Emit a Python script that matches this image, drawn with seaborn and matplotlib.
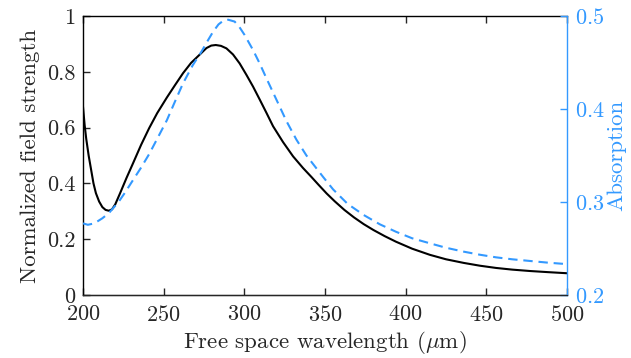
#!/usr/bin/env python3
"""Field strength and absorption versus free space wavelength."""

import pandas as pd
import matplotlib
matplotlib.use("Agg")
import matplotlib.pyplot as plt
import seaborn as sns

# normalized field strength (left axis)
field_wl = [200, 201, 202, 203.5, 205, 206.5, 208, 210, 212, 214, 216, 218,
            220, 223, 227, 231, 236, 241, 246, 252, 257, 262, 267, 272.4,
            276.5, 279.5, 282.3, 285.5, 288.9, 293, 297.1, 301.3, 305.4,
            309.5, 313.7, 317.8, 324, 330.2, 336.4, 341.6, 346, 351, 356,
            362, 368, 374, 380, 387, 394, 404, 415, 425, 436, 446, 456, 466,
            477, 488, 500]
field = [0.675, 0.61, 0.56, 0.50, 0.45, 0.40, 0.365, 0.335, 0.315, 0.305,
         0.302, 0.307, 0.325, 0.365, 0.42, 0.472, 0.538, 0.598, 0.652, 0.708,
         0.752, 0.795, 0.832, 0.862, 0.885, 0.894, 0.896, 0.893, 0.884, 0.862,
         0.83, 0.789, 0.747, 0.701, 0.653, 0.605, 0.548, 0.497, 0.455, 0.423,
         0.395, 0.364, 0.336, 0.305, 0.278, 0.254, 0.233, 0.211, 0.191, 0.166,
         0.144, 0.128, 0.115, 0.105, 0.097, 0.091, 0.086, 0.082, 0.078]

# absorption (right axis)
abs_wl = [200, 203, 207, 212, 216, 222, 226, 231, 236, 241, 246, 252, 257,
          262, 268, 273.4, 277.5, 280.6, 284, 287, 290, 294, 297, 300.2,
          305.4, 309.5, 313.7, 319.9, 326.1, 332.3, 338.5, 348.8, 355, 364,
          374, 384, 394, 404, 415, 425, 436, 446, 456, 466, 477, 488, 500]
absorption = [0.277, 0.2755, 0.277, 0.2825, 0.288, 0.300, 0.310, 0.3236,
              0.337, 0.3515, 0.368, 0.388, 0.408, 0.4276, 0.447, 0.4616,
              0.474, 0.483, 0.491, 0.495, 0.496, 0.494, 0.488, 0.4795,
              0.4634, 0.449, 0.433, 0.41, 0.387, 0.367, 0.35, 0.327,
              0.3136, 0.298, 0.286, 0.276, 0.268, 0.261, 0.2556, 0.2508,
              0.2466, 0.2433, 0.2405, 0.2384, 0.2366, 0.2348, 0.2332]

BLUE = "#3399ff"
TICK_FS = 16
LABEL_FS = 16.5

sns.set_style("ticks")
plt.rcParams["font.family"] = "serif"
plt.rcParams["font.serif"] = ["cmr10", "DejaVu Serif"]
plt.rcParams["mathtext.fontset"] = "cm"
plt.rcParams["axes.formatter.use_mathtext"] = True
plt.rcParams["axes.unicode_minus"] = False

df_field = pd.DataFrame({"wl": field_wl, "val": field})
df_abs = pd.DataFrame({"wl": abs_wl, "val": absorption})

fig = plt.figure(figsize=(6.31, 3.58), dpi=100)
ax = fig.add_axes([83 / 631, 1 - 295 / 358, (567 - 83) / 631, (295 - 16) / 358])
ax2 = ax.twinx()

sns.lineplot(data=df_field, x="wl", y="val", ax=ax, color="black", lw=1.5)
sns.lineplot(data=df_abs, x="wl", y="val", ax=ax2, color=BLUE, lw=1.5,
             linestyle=(0, (4.5, 2.8)))

ax.set_xlim(200, 500)
ax.set_ylim(0, 1)
ax2.set_ylim(0.2, 0.5)
ax.set_xticks([200, 250, 300, 350, 400, 450, 500])
ax.set_yticks([0, 0.2, 0.4, 0.6, 0.8, 1])
ax.set_yticklabels(["0", "0.2", "0.4", "0.6", "0.8", "1"])
ax2.set_yticks([0.2, 0.3, 0.4, 0.5])

ax.set_xlabel(r"Free space wavelength ($\mu$m)", fontsize=LABEL_FS, labelpad=3)
ax.set_ylabel("Normalized field strength", fontsize=LABEL_FS, labelpad=5)
ax2.set_ylabel("Absorption", fontsize=LABEL_FS, color=BLUE, labelpad=2)

ax.tick_params(axis="y", direction="in", length=5, width=1,
               labelsize=TICK_FS, right=False, pad=5.5)
ax.tick_params(axis="x", direction="in", length=5, width=1,
               labelsize=TICK_FS, top=True, pad=7)
ax2.tick_params(axis="y", direction="in", length=5, width=1,
                labelsize=TICK_FS, colors=BLUE, pad=5.5)

for s in ["left", "bottom", "top"]:
    ax.spines[s].set_visible(True)
    ax.spines[s].set_color("black")
    ax.spines[s].set_linewidth(1)
ax2.spines["right"].set_visible(True)
ax2.spines["right"].set_color(BLUE)
ax2.spines["right"].set_linewidth(1)
ax2.spines["top"].set_visible(False)
ax2.spines["left"].set_visible(False)
ax.spines["right"].set_visible(False)

fig.savefig("out.png", dpi=100)
